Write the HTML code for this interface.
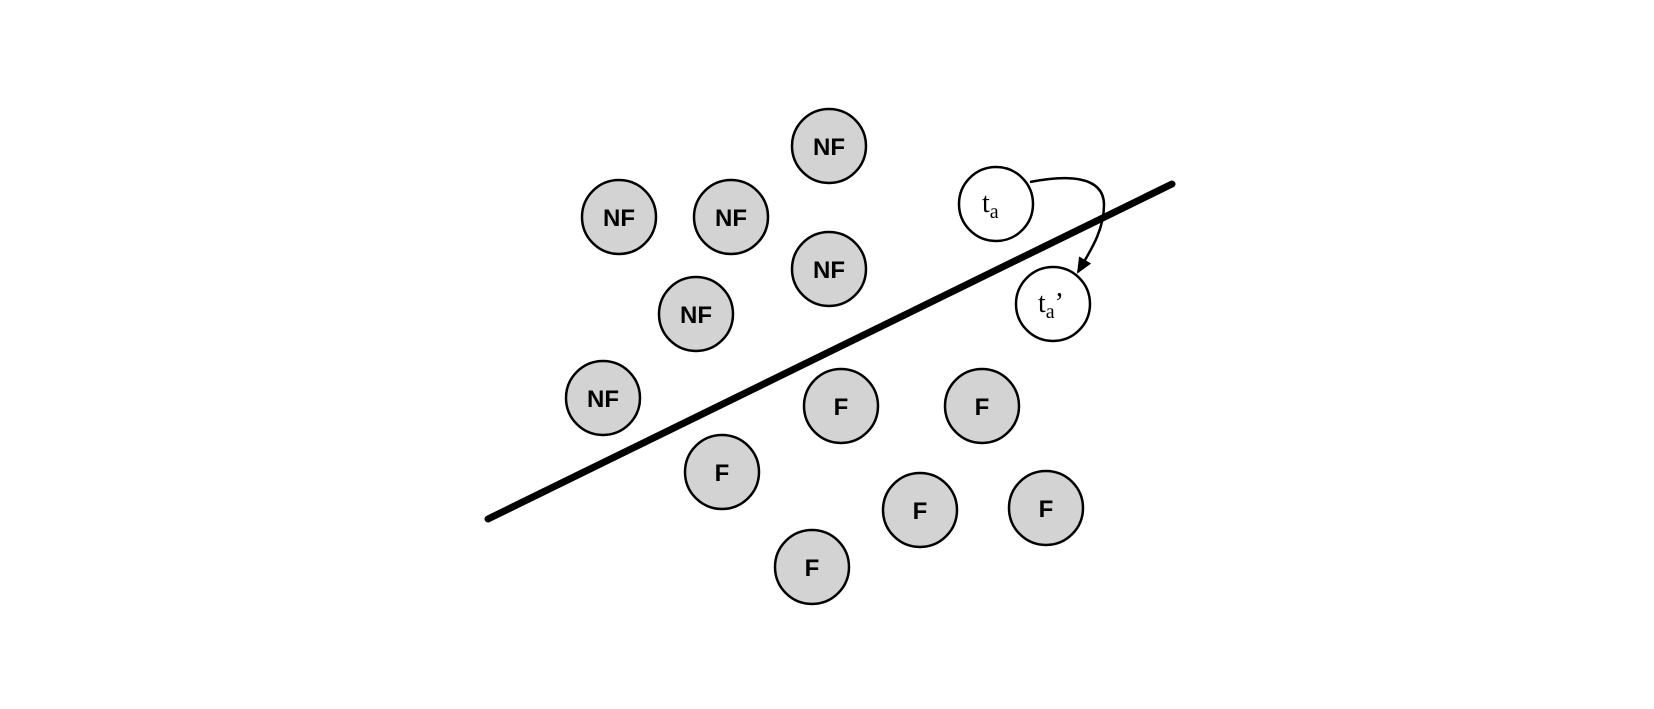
<!DOCTYPE html>
<html><head><style>html,body{margin:0;padding:0;background:#fff;}svg{display:block}</style></head>
<body>
<svg width="1654" height="709" viewBox="0 0 1654 709" xmlns="http://www.w3.org/2000/svg">
<defs><marker id="ah" markerWidth="16" markerHeight="14" refX="14" refY="7" orient="auto" markerUnits="userSpaceOnUse"><path d="M0,0 L16,7 L0,14 Z" fill="#000"/></marker></defs>
<g transform="translate(-4,0)">
<g stroke="#000" stroke-width="2.5" fill="#d3d3d3">
<circle cx="833" cy="146" r="37"/>
<circle cx="623" cy="217" r="37"/>
<circle cx="735" cy="217" r="37"/>
<circle cx="833" cy="269" r="37"/>
<circle cx="700" cy="314" r="37"/>
<circle cx="607" cy="398" r="37"/>
<circle cx="845" cy="406" r="37"/>
<circle cx="986" cy="406" r="37"/>
<circle cx="726" cy="472" r="37"/>
<circle cx="924" cy="510" r="37"/>
<circle cx="1050" cy="508" r="37"/>
<circle cx="816" cy="567" r="37"/>
<circle cx="1000" cy="204" r="37" fill="#fff"/>
<circle cx="1057" cy="304" r="37" fill="#fff"/>
</g>
<line x1="492" y1="519" x2="1176" y2="184" stroke="#000" stroke-width="7" stroke-linecap="round"/>
<path d="M1034,182 C1070,175 1108,175 1108,205 C1108,230 1095,250 1082,272" fill="none" stroke="#000" stroke-width="2.5" marker-end="url(#ah)"/>
<g font-family="Liberation Sans, sans-serif" font-weight="bold" font-size="24" text-anchor="middle" fill="#000">
<text x="833" y="155">NF</text>
<text x="623" y="226">NF</text>
<text x="735" y="226">NF</text>
<text x="833" y="278">NF</text>
<text x="700" y="323">NF</text>
<text x="607" y="407">NF</text>
<text x="845" y="415">F</text>
<text x="986" y="415">F</text>
<text x="726" y="481">F</text>
<text x="924" y="519">F</text>
<text x="1050" y="517">F</text>
<text x="816" y="576">F</text>
</g>
<g font-family="Liberation Serif, serif" font-size="28" fill="#000">
<text x="986" y="212">t<tspan font-size="20" dy="6">a</tspan></text>
<text x="1042" y="312">t<tspan font-size="20" dy="6">a</tspan><tspan dy="-6">’</tspan></text>
</g>
</g>
</svg>
</body></html>
